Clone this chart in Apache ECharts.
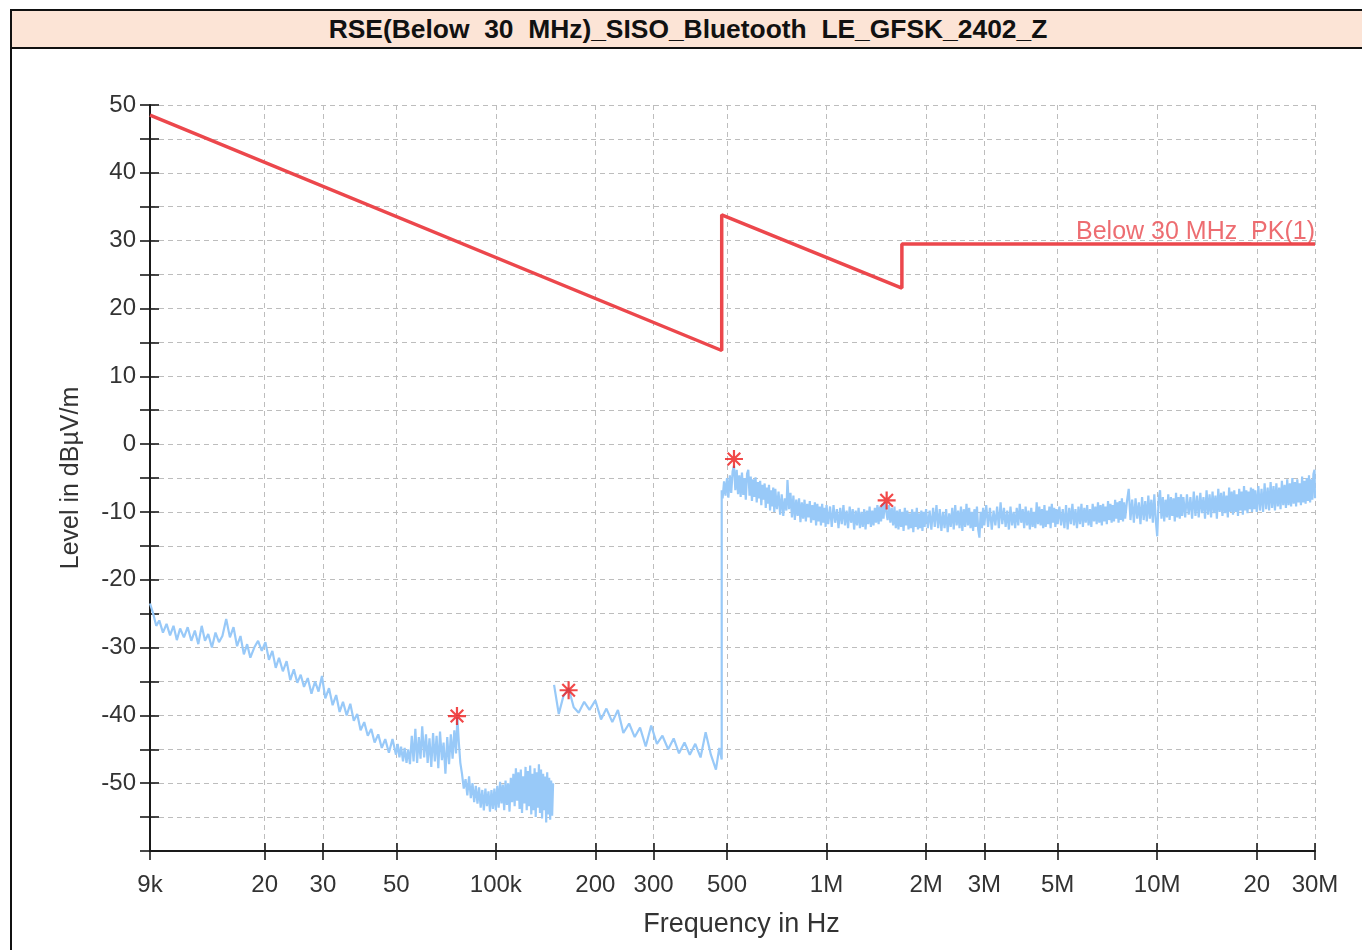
<!DOCTYPE html>
<html>
<head>
<meta charset="utf-8">
<script src="https://cdn.jsdelivr.net/npm/echarts@6/dist/echarts.min.js"></script>
<style>
    html, body { margin: 0; padding: 0; background: #fff; }
    #chart { position: absolute; left: 0; top: 0; width: 1362px; height: 950px; }
    #frame {
        position: absolute; left: 10px; top: 9px; width: 1352px; height: 941px;
        border-left: 2px solid #111; border-top: 2px solid #111; pointer-events: none;
    }
    #title {
        height: 33px; padding-top: 3px; line-height: 36px; background: #FCE4D6; border-bottom: 2px solid #111;
        text-align: center; white-space: pre; color: #111;
        font: bold 26.4px "Liberation Sans", Arial, sans-serif;
    }
</style>
</head>
<body>
<div id="chart"></div>
<div id="frame"><div id="title">RSE(Below  30  MHz)_SISO_Bluetooth  LE_GFSK_2402_Z</div></div>
<script>
/* ========== RSE 9 kHz - 30 MHz 扫描图 ========== */

// x 轴刻度 (kHz)
const FREQ_TICKS = [9, 20, 30, 50, 100, 200, 300, 500, 1000, 2000, 3000, 5000, 10000, 20000, 30000];
const FREQ_LABELS = ["9k", "20", "30", "50", "100k", "200", "300", "500", "1M", "2M", "3M", "5M", "10M", "20", "30M"];

// 限值线 [kHz, dBµV/m]
const LIMIT = [[9, 48.5], [482, 13.8], [482, 33.8], [1690, 23.0], [1690, 29.5], [30000, 29.5]];
const LIMIT_NAME = "Below 30 MHz_PK(1)";

// 峰值标记
const PEAKS = [[76.3, -40.1], [166, -36.3], [525, -2.2], [1520, -8.3]];

// 扫描曲线 9k-150k
const TRACE_A = [
    [9.0, -23.5], [9.2, -25.0], [9.4, -26.8], [9.6, -26.0], [9.85, -27.8], [10.1, -26.5], [10.35, -28.2], [10.6, -26.8],
    [10.85, -28.9], [11.1, -27.2], [11.4, -28.5], [11.7, -27.0], [12.0, -29.0], [12.3, -27.5], [12.6, -29.5], [12.9, -26.8],
    [13.2, -29.0], [13.5, -28.0], [13.85, -30.0], [14.2, -27.8], [14.55, -29.2], [14.9, -28.3], [15.3, -25.8], [15.7, -28.5],
    [16.1, -27.0], [16.5, -29.8], [16.9, -28.3], [17.3, -31.0], [17.7, -29.5], [18.1, -31.5], [18.6, -30.0], [19.1, -29.0],
    [19.6, -30.5], [20.1, -29.2], [20.6, -31.8], [21.1, -30.5], [21.6, -33.0], [22.1, -31.5], [22.7, -33.5], [23.3, -32.0],
    [23.9, -34.8], [24.5, -33.2], [25.1, -35.2], [25.7, -34.0], [26.3, -35.8], [27.0, -34.5], [27.7, -36.8], [28.4, -35.0],
    [29.1, -36.5], [29.8, -34.2], [30.5, -37.5], [31.3, -36.0], [32.1, -38.5], [32.9, -37.0], [33.7, -39.5], [34.5, -38.0],
    [35.4, -40.0], [36.3, -38.3], [37.2, -40.8], [38.1, -39.8], [39.0, -42.2], [40.0, -41.0], [41.0, -43.0], [42.0, -42.0],
    [43.0, -44.0], [44.1, -42.8], [45.2, -44.8], [46.3, -43.5], [47.5, -45.5], [48.7, -43.5],
    [49.9, -45.8], [50.5, -44.2], [51.1, -46.2], [51.7, -44.6], [52.4, -46.8], [53.0, -44.8], [53.7, -47.0], [54.3, -45.0],
    [55.0, -47.2], [55.7, -43.0], [56.4, -46.8], [57.1, -42.0], [57.8, -47.0], [58.5, -43.2], [59.2, -46.4], [59.9, -41.6],
    [60.7, -46.2], [61.5, -42.8], [62.2, -47.0], [63.0, -43.4], [63.8, -47.6], [64.6, -42.6], [65.4, -46.8], [66.2, -43.0],
    [67.0, -47.8], [67.8, -42.4], [68.7, -46.6], [69.5, -44.0], [70.4, -48.6], [71.3, -43.2], [72.2, -47.2], [73.1, -42.8],
    [74.0, -46.4], [74.9, -42.2], [75.8, -45.6], [76.5, -40.3], [77.3, -44.0], [78.1, -47.0],
    [79.0, -48.6], [80.0, -50.8], [81.0, -49.4], [82.0, -51.8], [83.0, -49.0], [84.0, -52.2], [85.0, -50.0], [86.0, -52.8],
    [87.0, -50.4], [88.0, -53.0], [89.0, -50.6], [90.0, -53.6], [91.0, -51.0], [92.0, -54.0], [93.0, -50.8], [94.0, -53.4],
    [95.0, -51.2], [96.0, -54.2], [97.0, -51.0], [98.0, -53.8], [99.0, -50.8], [100, -54.0],
    [101, -50.4], [102, -53.6], [103, -49.8], [104, -53.0], [105, -50.2], [106, -54.0], [107, -49.6], [108, -53.2],
    [109, -50.0], [110, -54.2], [111, -49.2], [112, -52.8], [113, -48.6], [114, -53.4], [115, -47.8], [116, -52.6],
    [117, -48.4], [118, -53.8], [119, -48.0], [120, -54.4], [121, -49.0], [122, -53.0], [123, -47.6], [124, -54.0],
    [125, -48.2], [126, -53.4], [127, -47.4], [128, -54.6], [129, -48.6], [130, -54.0], [131, -47.8], [132, -55.0],
    [133, -48.4], [134, -53.6], [135, -47.2], [136, -54.4], [137, -48.0], [138, -55.2], [139, -48.6], [140, -54.0],
    [141, -49.0], [142, -55.8], [143, -48.4], [144, -54.6], [145, -49.2], [146, -55.4], [147, -49.6], [148, -54.8],
    [149, -50.0],
];

// 扫描曲线 150k-490k
const TRACE_B = [
    [150, -35.5], [155, -39.8], [160, -37.2], [166, -36.0], [172, -38.8], [178, -39.6], [185, -38.0], [192, -39.2],
    [200, -37.8], [208, -40.6], [216, -39.0], [225, -41.0], [234, -39.2], [243, -42.6], [253, -41.2], [263, -43.2],
    [273, -41.8], [284, -44.6], [295, -41.5], [307, -44.2], [319, -43.0], [332, -45.0], [345, -43.4], [358, -45.6],
    [372, -44.0], [386, -45.8], [401, -44.2], [416, -46.2], [431, -42.5], [447, -45.8], [463, -48.0], [474, -44.8],
    [482, -46.5],
];

// 扫描曲线 490k-30M
const TRACE_C = [
    [482, -6.8], [485, -8.0], [490, -5.5], [495, -7.6], [500, -5.0], [505, -7.9], [510, -4.6], [515, -7.2],
    [520, -4.0], [525, -3.2], [530, -6.8], [535, -3.8], [540, -7.4], [545, -4.6], [550, -7.8], [555, -4.2],
    [560, -7.5], [565, -5.0], [570, -8.2], [575, -4.4], [580, -3.8], [585, -7.6], [590, -4.8], [595, -8.4],
    [600, -5.2], [605, -7.8], [610, -4.9], [615, -8.6], [620, -5.6], [625, -8.0], [630, -5.4], [635, -9.0],
    [640, -6.0], [645, -8.2], [650, -5.8], [655, -9.4], [660, -6.4], [665, -8.8], [670, -6.0], [675, -9.8],
    [680, -6.8], [685, -9.2], [690, -6.4], [695, -10.0], [700, -6.6],
    [708, -9.6], [716, -7.0], [724, -10.4], [732, -7.4], [740, -10.6], [748, -8.0], [756, -9.8], [762, -5.3],
    [770, -9.6], [778, -7.2], [786, -10.8], [794, -7.6], [802, -11.2], [810, -8.2], [818, -10.6], [826, -8.0],
    [834, -11.5], [842, -8.6], [850, -11.0], [858, -8.2], [866, -11.4], [874, -8.8], [882, -10.8], [890, -8.4],
    [898, -11.6], [906, -9.0], [914, -11.2], [922, -8.6], [930, -12.0], [938, -8.8], [946, -11.4], [954, -9.2],
    [962, -12.0], [970, -8.8], [978, -11.6], [986, -9.4], [994, -12.2], [1000, -9.0],
    [1012, -11.8], [1025, -9.2], [1037, -12.2], [1050, -9.0], [1062, -11.6], [1075, -9.6], [1087, -12.4], [1100, -9.4],
    [1112, -11.8], [1125, -9.0], [1137, -12.0], [1150, -9.8], [1162, -12.4], [1175, -9.2], [1187, -11.6], [1200, -9.6],
    [1212, -12.6], [1225, -9.8], [1237, -12.0], [1250, -9.4], [1262, -12.4], [1275, -10.0], [1287, -12.2], [1300, -9.6],
    [1312, -12.6], [1325, -9.8], [1337, -11.8], [1350, -9.2], [1362, -12.2], [1375, -9.8], [1387, -12.0], [1400, -9.4],
    [1412, -11.6], [1425, -9.0], [1437, -11.8], [1450, -9.2], [1462, -11.4], [1475, -8.8], [1487, -11.0], [1500, -8.6],
    [1515, -8.5], [1530, -11.2], [1545, -9.0], [1560, -11.6], [1575, -9.4], [1590, -12.0], [1605, -9.2], [1620, -12.4],
    [1635, -9.8], [1650, -12.6], [1665, -9.6], [1680, -12.2], [1695, -10.0], [1710, -12.8], [1725, -9.4], [1740, -12.0],
    [1755, -9.8], [1770, -12.6], [1785, -10.2], [1800, -12.4], [1815, -9.6], [1830, -13.0], [1845, -10.0], [1860, -12.2],
    [1875, -9.4], [1890, -12.6], [1905, -10.2], [1920, -12.4], [1935, -9.8], [1950, -12.8], [1965, -10.0], [1980, -12.2],
    [2000, -9.6],
    [2025, -12.4], [2050, -9.8], [2075, -12.6], [2100, -9.4], [2125, -12.2], [2150, -9.0], [2175, -12.4], [2200, -9.6],
    [2225, -12.8], [2250, -10.0], [2275, -12.4], [2300, -9.6], [2325, -13.0], [2350, -10.2], [2375, -12.2], [2400, -9.4],
    [2425, -12.6], [2450, -9.0], [2475, -12.0], [2500, -9.8], [2525, -12.4], [2550, -9.2], [2575, -12.8], [2600, -9.6],
    [2625, -12.2], [2650, -8.8], [2675, -12.0], [2700, -9.4], [2725, -12.4], [2750, -10.0], [2775, -12.8], [2800, -9.6],
    [2825, -12.2], [2850, -9.2], [2875, -12.6], [2900, -13.8], [2925, -10.0], [2950, -12.4], [2975, -9.4], [3000, -12.0],
    [3040, -9.0], [3080, -12.2], [3120, -9.4], [3160, -12.6], [3200, -9.8], [3240, -12.0], [3280, -9.2], [3320, -12.4],
    [3360, -8.6], [3400, -11.8], [3440, -9.4], [3480, -12.2], [3520, -9.8], [3560, -12.6], [3600, -9.2], [3640, -12.0],
    [3680, -10.0], [3720, -12.4], [3760, -9.4], [3800, -12.0], [3840, -8.8], [3880, -11.6], [3920, -9.6], [3960, -12.4],
    [4000, -9.2], [4040, -12.0], [4080, -9.8], [4120, -12.6], [4160, -9.4], [4200, -12.2], [4240, -10.0], [4280, -12.4],
    [4320, -8.6], [4360, -11.8], [4400, -9.2], [4440, -12.0], [4480, -9.6], [4520, -12.4], [4560, -9.0], [4600, -12.2],
    [4640, -9.8], [4680, -11.8], [4720, -9.2], [4760, -12.4], [4800, -8.8], [4840, -11.6], [4880, -9.4], [4920, -12.2],
    [4960, -9.6], [5000, -11.8],
    [5060, -9.2], [5120, -12.0], [5180, -9.6], [5240, -12.4], [5300, -9.0], [5360, -12.6], [5420, -9.4], [5480, -11.8],
    [5540, -8.8], [5600, -12.0], [5660, -9.6], [5720, -12.4], [5780, -9.2], [5840, -11.8], [5900, -8.8], [5960, -12.2],
    [6020, -9.4], [6080, -11.6], [6140, -9.0], [6200, -12.0], [6260, -9.6], [6320, -12.2], [6380, -8.8], [6440, -11.4],
    [6500, -9.2], [6560, -11.8], [6620, -8.6], [6680, -11.6], [6740, -9.0], [6800, -12.0], [6860, -8.8], [6920, -11.4],
    [6980, -9.2], [7040, -11.8], [7100, -8.4], [7160, -11.2], [7220, -8.8], [7280, -11.6], [7340, -9.0], [7400, -11.4],
    [7460, -8.2], [7520, -11.0], [7580, -8.6], [7640, -11.6], [7700, -8.4], [7760, -11.2], [7820, -8.0], [7880, -11.4],
    [7940, -8.6], [8000, -11.0],
    [8100, -8.4], [8200, -6.6], [8300, -11.2], [8400, -8.2], [8500, -11.6], [8600, -8.0], [8700, -11.0], [8800, -8.6],
    [8900, -11.8], [9000, -7.8], [9100, -11.2], [9200, -8.4], [9300, -11.4], [9400, -7.6], [9500, -11.0], [9600, -8.2],
    [9700, -11.6], [9800, -7.4], [9900, -11.2], [10000, -13.6], [10100, -8.0], [10200, -6.8], [10300, -11.0], [10400, -7.8],
    [10500, -11.4], [10600, -8.2], [10700, -10.8], [10800, -7.4], [10900, -11.2], [11000, -7.8], [11100, -10.6], [11200, -8.0],
    [11300, -11.4], [11400, -7.2], [11500, -10.8], [11600, -7.8], [11700, -11.0], [11800, -7.4], [11900, -10.6], [12000, -7.8],
    [12150, -10.8], [12300, -7.4], [12450, -10.4], [12600, -7.8], [12750, -11.0], [12900, -7.0], [13050, -10.6], [13200, -7.6],
    [13350, -10.8], [13500, -7.2], [13650, -10.2], [13800, -7.8], [13950, -11.0], [14100, -6.8], [14250, -10.4], [14400, -7.4],
    [14550, -10.8], [14700, -7.0], [14850, -10.2], [15000, -7.6], [15150, -11.0], [15300, -6.6], [15450, -10.0], [15600, -7.2],
    [15750, -10.6], [15900, -7.0], [16050, -10.2], [16200, -7.6], [16350, -10.8], [16500, -6.4], [16650, -10.0], [16800, -7.0],
    [16950, -10.4], [17100, -6.8], [17250, -10.0], [17400, -7.4], [17550, -10.6], [17700, -6.6], [17850, -9.8], [18000, -7.0],
    [18150, -10.4], [18300, -6.2], [18450, -9.8], [18600, -6.8], [18750, -10.2], [18900, -7.0], [19050, -9.6], [19200, -6.4],
    [19350, -10.0], [19500, -6.6], [19650, -9.6], [19800, -6.8], [20000, -10.0],
    [20225, -6.2], [20450, -9.8], [20675, -6.6], [20900, -10.0], [21125, -5.8], [21350, -9.6], [21575, -6.4], [21800, -9.8],
    [22025, -5.6], [22250, -9.4], [22475, -6.2], [22700, -9.8], [22925, -5.8], [23150, -9.2], [23375, -6.4], [23600, -9.6],
    [23825, -5.4], [24050, -9.0], [24275, -6.0], [24500, -9.4], [24725, -5.2], [24950, -9.0], [25175, -5.8], [25400, -9.2],
    [25625, -5.0], [25850, -8.8], [26075, -5.6], [26300, -9.2], [26525, -5.2], [26750, -8.6], [26975, -5.8], [27200, -9.0],
    [27425, -4.8], [27650, -8.6], [27875, -5.4], [28100, -8.8], [28325, -5.0], [28550, -8.4], [28775, -4.6], [29000, -8.6],
    [29225, -5.2], [29450, -8.2], [29675, -4.4], [29900, -3.8], [30000, -8.0],
];

const FONT = "Liberation Sans";
const AXIS_COLOR = "#1a1a1a";
const TICK_STYLE = { color: AXIS_COLOR, width: 1.6 };
const GRID_LINE = { show: true, lineStyle: { color: "#bdbdbd", width: 1, type: [5, 4] } };

function freqLabel(v) {
    const i = FREQ_TICKS.findIndex(t => Math.abs(t - v) / t < 1e-6);
    return i >= 0 ? FREQ_LABELS[i] : "";
}

function renderChart() {
    const chart = echarts.init(document.getElementById("chart"));
    // 150k 处两段扫描之间断开, 490k 处连续跳变
    const trace = TRACE_A.concat([[149.5, null]], TRACE_B, TRACE_C);
    const lastLimit = LIMIT[LIMIT.length - 1];

    chart.setOption({
        animation: false,
        grid: { left: 150, right: 47, top: 105, bottom: 99 },
        xAxis: [{
            type: "log", logBase: 10, min: 9, max: 30000,
            name: "Frequency in Hz", nameLocation: "middle", nameGap: 60,
            nameTextStyle: { fontSize: 27, color: "#333", fontFamily: FONT, padding: [0, 0, 0, 18] },
            axisLine: { onZero: false, lineStyle: { color: AXIS_COLOR, width: 2 } },
            axisTick: { customValues: FREQ_TICKS, length: 9, lineStyle: TICK_STYLE },
            axisLabel: { customValues: FREQ_TICKS, formatter: freqLabel, margin: 22, fontSize: 24, color: "#333", fontFamily: FONT },
            splitLine: GRID_LINE,
        }, {
            type: "log", logBase: 10, min: 9, max: 30000, position: "bottom",
            axisLine: { show: false, onZero: false },
            axisTick: { customValues: FREQ_TICKS, inside: true, length: 8, lineStyle: TICK_STYLE },
            axisLabel: { show: false },
            splitLine: { show: false },
        }],
        yAxis: [{
            type: "value", min: -60, max: 50, interval: 5, position: "left",
            name: "Level in dBµV/m", nameLocation: "middle", nameGap: 66,
            nameTextStyle: { fontSize: 25, color: "#333", fontFamily: FONT },
            axisLine: { show: true, onZero: false, lineStyle: { color: AXIS_COLOR, width: 2 } },
            axisTick: { show: true, length: 10, lineStyle: TICK_STYLE },
            axisLabel: {
                formatter: v => (v % 10 === 0 && v > -60 ? String(v) : ""),
                margin: 14, fontSize: 24, color: "#333", fontFamily: FONT,
            },
            splitLine: GRID_LINE,
        }, {
            type: "value", min: -60, max: 50, interval: 5, position: "left", offset: 0,
            axisLine: { show: false, onZero: false },
            axisTick: { show: true, inside: true, length: 9, lineStyle: TICK_STYLE },
            axisLabel: { show: false },
            splitLine: { show: false },
        }],
        series: [{
            name: "trace", type: "line", data: trace, symbol: "none", connectNulls: false,
            lineStyle: { color: "#98C9F8", width: 2.2 }, z: 2, silent: true,
        }, {
            name: LIMIT_NAME, type: "line", data: LIMIT, symbol: "none",
            lineStyle: { color: "#EC474C", width: 3.5 }, z: 3, silent: true,
        }, {
            type: "scatter", data: [lastLimit], symbolSize: 0, z: 4, silent: true,
            label: {
                show: true, position: "top", align: "right", distance: 0, offset: [0, 1],
                formatter: LIMIT_NAME, fontSize: 25, color: "#E8484D", fontFamily: FONT,
            },
        }, {
            name: "peaks", type: "scatter", data: PEAKS, symbolSize: 18, z: 5, silent: true,
            symbol: "path://M10,0L10,20M0,10L20,10M3,3L17,17M3,17L17,3",
            itemStyle: { color: "#EE1A1A", borderColor: "#EE1A1A", borderWidth: 2.2 },
        }],
    });
}

renderChart();
</script>
</body>
</html>
